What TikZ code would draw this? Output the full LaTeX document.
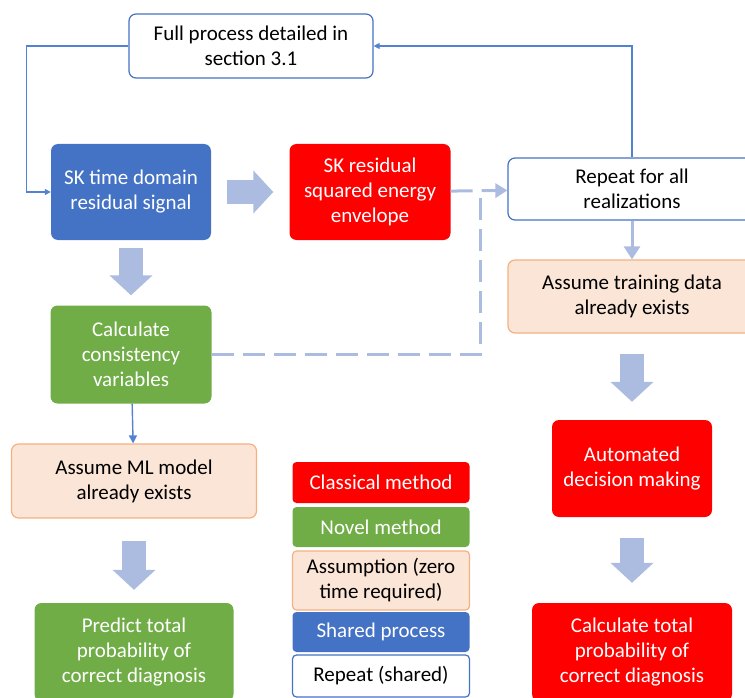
\documentclass[tikz,border=0pt]{standalone}
\usepackage{fontspec}
\setmainfont{Carlito}
\usetikzlibrary{arrows.meta}

\begin{document}
\begin{tikzpicture}[x=1pt,y=-1pt,
    box/.style={rounded corners=7pt, align=center, inner sep=2pt,
      font=\fontsize{21}{25}\selectfont},
    sharedbox/.style={box, fill=sblue, text=white},
    classicbox/.style={box, fill=cred, text=white},
    novelbox/.style={box, fill=ngreen, text=white},
    assumebox/.style={box, fill=apeach, draw=aorange, line width=1.2pt},
    repbox/.style={box, fill=white, draw=rblue, line width=1.2pt},
    fat/.style={draw=fblue, line width=24pt, -{Triangle[length=20pt,width=42pt]}},
    thinarrow/.style={draw=lblue, line width=1.1pt, -{Triangle[length=6pt,width=6pt]}},
    dashline/.style={draw=fblue, line width=3pt, dash pattern=on 22pt off 9pt}
  ]

\definecolor{sblue}{RGB}{68,114,196}
\definecolor{cred}{RGB}{255,0,0}
\definecolor{ngreen}{RGB}{112,173,71}
\definecolor{apeach}{RGB}{251,229,214}
\definecolor{aorange}{RGB}{244,177,131}
\definecolor{rblue}{RGB}{68,114,196}
\definecolor{fblue}{RGB}{172,188,225}
\definecolor{lblue}{RGB}{84,130,210}

\clip (0,0) rectangle (745,698);

\node[repbox, minimum width=244pt, minimum height=64pt] (full) at (251,46) {Full process detailed in\\section 3.1};
\node[sharedbox, minimum width=160pt, minimum height=96pt] (sktd) at (131,192) {SK time domain\\residual signal};
\node[classicbox, minimum width=161pt, minimum height=96pt] (skenv) at (370,192) {SK residual\\squared energy\\envelope};
\node[repbox, minimum width=248pt, minimum height=62pt] (rep) at (632,189) {Repeat for all\\realizations};
\node[assumebox, minimum width=248pt, minimum height=73pt] (train) at (632,296.5) {Assume training data\\already exists};
\node[novelbox, minimum width=161pt, minimum height=98pt] (calc) at (131,354.5) {Calculate\\consistency\\variables};
\node[assumebox, minimum width=245pt, minimum height=74pt] (ml) at (134,481) {Assume ML model\\already exists};
\node[novelbox, minimum width=199pt, minimum height=98pt] (predict) at (134,652) {Predict total\\probability of\\correct diagnosis};
\node[classicbox, minimum width=160pt, minimum height=97pt] (auto) at (632,468.5) {Automated\\decision making};
\node[classicbox, minimum width=200pt, minimum height=98pt] (total) at (632,652) {Calculate total\\probability of\\correct diagnosis};

\node[classicbox, rounded corners=4pt, minimum width=177pt, minimum height=41pt] (lcls) at (381,482.5) {Classical method};
\node[novelbox, rounded corners=4pt, minimum width=177pt, minimum height=40pt] (lnov) at (381,527) {Novel method};
\node[assumebox, rounded corners=4pt, minimum width=177pt, minimum height=59pt] (lasm) at (381,580.5) {Assumption (zero\\time required)};
\node[sharedbox, rounded corners=4pt, minimum width=177pt, minimum height=40pt] (lshr) at (381,632) {Shared process};
\node[repbox, rounded corners=4pt, minimum width=177pt, minimum height=42pt] (lrpt) at (381,676) {Repeat (shared)};

\draw[fat, shorten <=16pt, shorten >=16pt] (sktd) -- (skenv);
\draw[fat, shorten <=8pt, shorten >=10pt] (sktd) -- (calc);
\draw[fat, shorten <=22pt, shorten >=13pt] (ml) -- (predict);
\draw[fat, shorten <=20pt, shorten >=18pt] (train) -- (auto);
\draw[fat, shorten <=21pt, shorten >=20pt] (auto) -- (total);

\draw[thinarrow] (full.west) -- ++(-102,0) |- (sktd.west);
\draw[thinarrow] (rep.north) |- (full.east);
\draw[draw=fblue, line width=3pt, -{Triangle[length=13pt,width=16pt]}] (rep) -- (train);
\draw[thinarrow, line width=1.4pt, -{Triangle[length=8pt,width=8pt]}] (calc) -- (ml);

\coordinate (dj) at (480,192);
\draw[dashline, -{Triangle[length=12pt,width=14pt]}] (skenv) -- (rep);
\draw[dashline] (calc) -| (dj);

\end{tikzpicture}
\end{document}
